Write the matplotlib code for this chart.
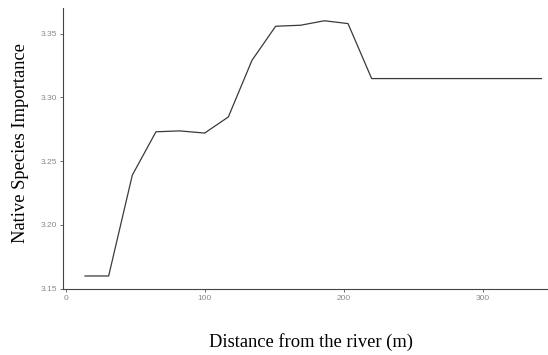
import matplotlib
matplotlib.use("Agg")
import matplotlib.pyplot as plt

# Distance from the river (m) and mean native species importance
distance = [14, 31, 48, 65, 82, 100, 117, 134, 151, 169, 186, 203, 220, 342]
importance = [3.160, 3.160, 3.239, 3.273, 3.2737, 3.272, 3.2846, 3.329,
              3.3557, 3.3565, 3.360, 3.3578, 3.3147, 3.3147]

x_ticks = [0, 100, 200, 300]
x_ticklabels = ["0", "100", "200", "300"]
y_ticks = [3.15, 3.20, 3.25, 3.30, 3.35]
y_ticklabels = ["3.15", "3.20", "3.25", "3.30", "3.35"]

fig = plt.figure(figsize=(5.48, 3.55), dpi=100)
ax = fig.add_axes([63 / 548, 66 / 355, 484 / 548, 281 / 355])

ax.plot(distance, importance, color="#3a3a3a", linewidth=0.9)

ax.set_xlim(-1.8, 346)
ax.set_ylim(3.1498, 3.370)

tick_font = dict(family=["Liberation Sans Narrow", "Liberation Sans", "DejaVu Sans"],
                 size=6, color="#8a8a8a")
ax.set_xticks(x_ticks)
ax.set_xticklabels(x_ticklabels, fontdict=tick_font)
ax.set_yticks(y_ticks)
ax.set_yticklabels(y_ticklabels, fontdict=tick_font)
ax.tick_params(axis="both", length=2.5, width=0.6, color="#555555", pad=2)

for side in ("top", "right"):
    ax.spines[side].set_visible(False)
for side in ("left", "bottom"):
    ax.spines[side].set_color("#444444")
    ax.spines[side].set_linewidth(0.8)

label_font = dict(family=["Liberation Serif", "DejaVu Serif"], size=13.3, color="black")
ax.set_xlabel("Distance from the river (m)", fontdict=label_font)
ax.set_ylabel("Native Species Importance", fontdict=label_font)
ax.xaxis.label.set_va("center")
ax.xaxis.label.set_ha("center")
ax.yaxis.label.set_va("center")
ax.yaxis.label.set_ha("center")
ax.xaxis.set_label_coords(0.512, (289 - 342) / 281)
ax.yaxis.set_label_coords((21 - 63) / 484, 0.52)

fig.savefig("out.png", dpi=100)
